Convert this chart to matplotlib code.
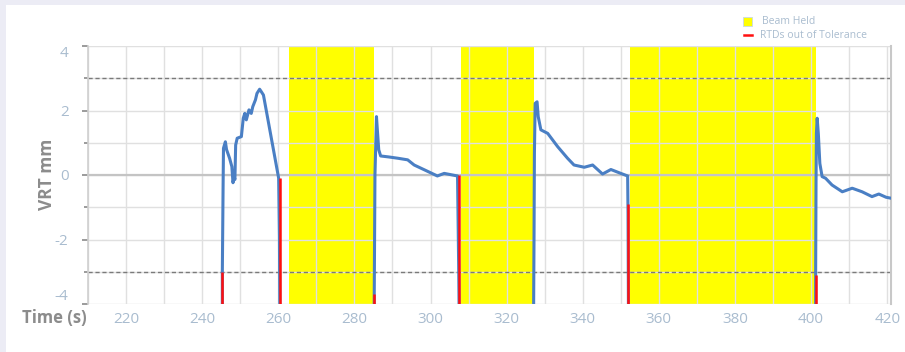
import numpy as np
import matplotlib
matplotlib.use("Agg")
import matplotlib.pyplot as plt
from matplotlib.patches import Rectangle
from matplotlib.lines import Line2D

plt.rcParams['axes.unicode_minus'] = False

# VRT readings (s, mm), one list per beam-on segment
seg1_t = [245.3, 245.3, 245.5, 245.6, 246.1, 246.4, 247.2, 247.8, 248.1, 248.4, 248.6, 248.8, 249.2, 250.3, 250.8, 251.2, 251.6, 252.3, 252.9, 253.3, 254.0, 254.4, 255.1, 255.5, 256.1, 260.1, 260.3, 260.4]
seg1_v = [-4.0, -3.0, -0.31, 0.83, 1.03, 0.79, 0.52, 0.26, -0.24, -0.05, -0.14, 0.93, 1.14, 1.19, 1.76, 1.91, 1.71, 2.02, 1.91, 2.12, 2.33, 2.53, 2.66, 2.59, 2.48, -0.10, -1.9, -4.0]
seg2_t = [285.2, 285.4, 285.8, 286.0, 286.4, 286.9, 289.0, 291.4, 294.0, 295.7, 298.4, 301.8, 303.6, 307.1, 307.4, 307.5]
seg2_v = [-4.0, 0.0, 1.81, 1.45, 0.78, 0.59, 0.56, 0.52, 0.47, 0.31, 0.16, -0.03, 0.05, -0.03, -2.84, -4.0]
seg3_t = [327.1, 327.2, 327.3, 327.5, 328.0, 328.3, 329.0, 330.8, 333.4, 336.0, 337.7, 340.4, 342.6, 345.2, 347.4, 350.0, 351.8, 351.9, 352.0]
seg3_v = [-4.0, -1.91, 0.67, 2.22, 2.27, 1.81, 1.40, 1.29, 0.88, 0.52, 0.31, 0.24, 0.31, 0.03, 0.17, 0.05, -0.03, -1.2, -4.0]
seg4_t = [401.2, 401.2, 401.3, 401.4, 401.6, 401.9, 402.3, 402.9, 403.8, 405.5, 408.2, 410.8, 413.4, 416.0, 417.8, 419.7, 421.0]
seg4_v = [-4.0, -3.0, -0.26, 1.29, 1.76, 1.29, 0.36, -0.05, -0.10, -0.31, -0.52, -0.41, -0.52, -0.67, -0.59, -0.69, -0.72]

# beam held intervals (s)
held_start = [262.7, 308.0, 352.5]
held_end = [285.2, 327.1, 401.2]

# RTDs out of tolerance marks: time, top, bottom
rtd_t = [245.3, 260.4, 285.2, 307.5, 352.0, 401.2]
rtd_top = [-3.0, -0.1, -3.7, 0.0, -0.9, -3.1]
rtd_bot = [-4.0, -4.0, -4.0, -4.0, -4.0, -4.0]

tol = 3.0
tick_col = '#a9bccf'
blue = '#4a7fc4'

fig = plt.figure(figsize=(9.05, 3.52), dpi=100)
fig.patch.set_facecolor('#ececf5')
fig.patches.append(Rectangle((6/905, 0), 1, 1 - 5/352, transform=fig.transFigure,
                             facecolor='white', edgecolor='none', zorder=-1))

ax = fig.add_axes([88/905, 48/352, (891-88)/905, (304-46)/352])
ax.set_facecolor('white')

for a, b in zip(held_start, held_end):
    ax.axvspan(a, b, color='#ffff00', zorder=0, lw=0)

t_all = seg1_t + [np.nan] + seg2_t + [np.nan] + seg3_t + [np.nan] + seg4_t
v_all = seg1_v + [np.nan] + seg2_v + [np.nan] + seg3_v + [np.nan] + seg4_v
ax.plot(t_all, v_all, color=blue, lw=2.2, zorder=3)
ax.vlines(rtd_t, rtd_bot, rtd_top, color='#ff1010', lw=1.8, zorder=4)

ax.axhline(0, color='#c4c4c4', lw=1.6, zorder=1)
ax.axhline(tol, color='#7a7a7a', lw=1, ls=(0, (3, 2)), zorder=2)
ax.axhline(-tol, color='#7a7a7a', lw=1, ls=(0, (3, 2)), zorder=2)

ax.set_xlim(210, 421)
ax.set_ylim(-4, 4)
ax.set_xticks(np.arange(220, 421, 20))
ax.set_xticks(np.arange(210, 421, 10), minor=True)
ax.set_yticks([-4, -2, 0, 2, 4])
ax.set_yticks(np.arange(-4, 5, 1), minor=True)
ax.grid(True, which='both', color='#e0e0e0', lw=1)
ax.set_axisbelow(True)

ax.tick_params(axis='x', which='both', length=0, pad=6, labelsize=11, labelcolor=tick_col)
ax.tick_params(axis='y', which='both', length=4, width=1.2, color='#8a8a8a', pad=10,
               labelsize=11, labelcolor=tick_col)
ax.tick_params(axis='y', which='minor', length=3)
for lab in ax.get_xticklabels() + ax.get_yticklabels():
    lab.set_fontfamily('Open Sans')
# end labels sit inside the axis range
ylabs = ax.get_yticklabels()
ylabs[0].set_va('bottom')
ylabs[-1].set_va('top')

ax.spines['top'].set_visible(False)
ax.spines['bottom'].set_visible(False)
ax.spines['left'].set_color('#d0d0d0')
ax.spines['left'].set_linewidth(1.2)
ax.spines['right'].set_color('#c8c8c8')
ax.spines['right'].set_linewidth(1.5)

fig.text(47/905, 1 - 174/352, 'VRT mm', rotation=90, ha='center', va='center',
         fontsize=12.5, fontweight='bold', color='#8c8c8c', family='Open Sans')
fig.text(87/905, 1 - 318/352, 'Time (s)', ha='right', va='center',
         fontsize=12, fontweight='bold', color='#8c8c8c', family='Open Sans')

# legend
fig.patches.append(Rectangle((743/905, 1 - 26/352), 9/905, 9/352, transform=fig.transFigure,
                             facecolor='#ffff00', edgecolor='#c8d8e8', lw=0.6))
fig.lines.append(Line2D([744/905, 752/905], [1 - 35/352, 1 - 35/352], transform=fig.transFigure,
                        color='#ff1010', lw=1.8))
fig.text(762/905, 1 - 21/352, 'Beam Held', ha='left', va='center', fontsize=7.5,
         color='#a9bccf', family='Open Sans')
fig.text(760/905, 1 - 35/352, 'RTDs out of Tolerance', ha='left', va='center', fontsize=7.5,
         color='#a9bccf', family='Open Sans')

fig.savefig('out.png', dpi=100, facecolor=fig.get_facecolor())
